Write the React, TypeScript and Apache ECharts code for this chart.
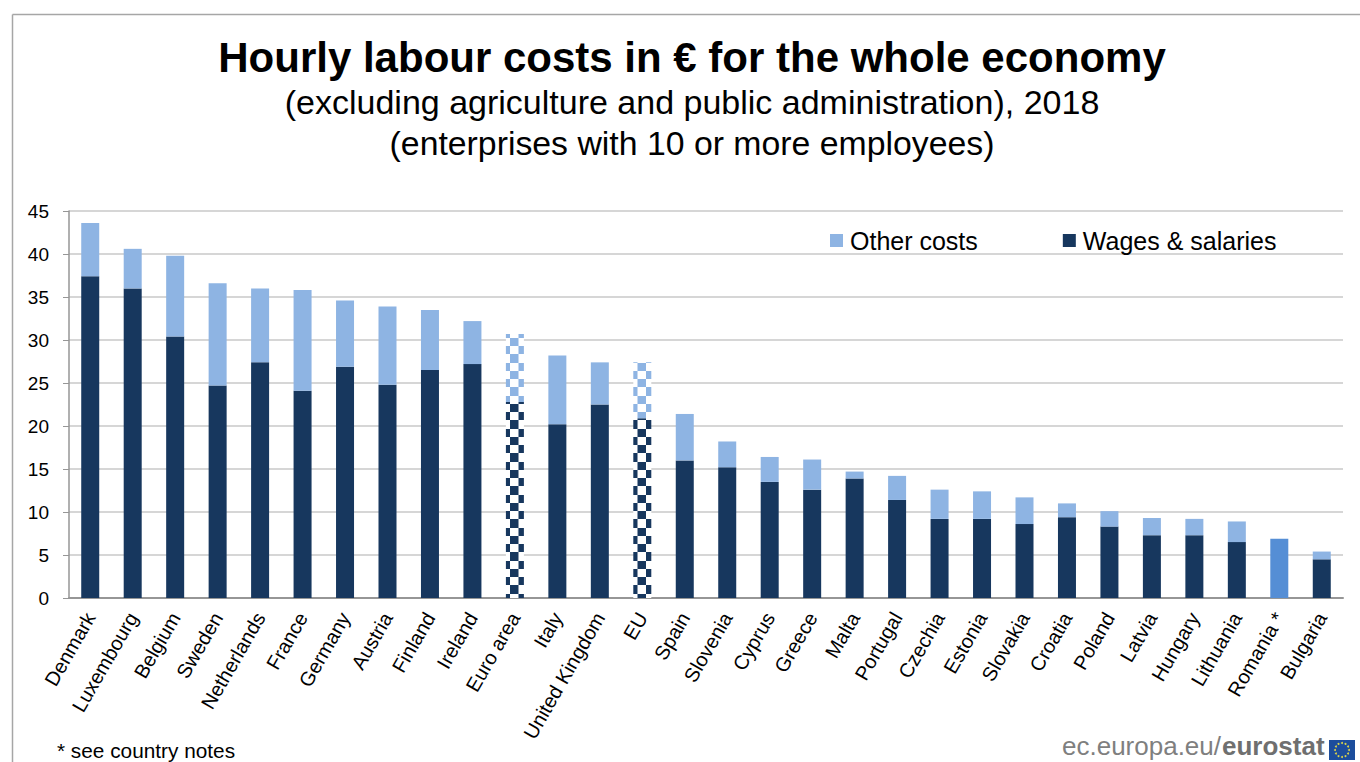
import React, { useEffect, useRef } from "react";
import * as echarts from "echarts";

const categories = ["Denmark","Luxembourg","Belgium","Sweden","Netherlands","France","Germany","Austria","Finland","Ireland","Euro area","Italy","United Kingdom","EU","Spain","Slovenia","Cyprus","Greece","Malta","Portugal","Czechia","Estonia","Slovakia","Croatia","Poland","Latvia","Hungary","Lithuania","Romania *","Bulgaria"];
const wages = [37.4,36.0,30.4,24.7,27.4,24.1,26.9,24.8,26.5,27.2,22.8,20.2,22.5,20.9,16.0,15.2,13.5,12.6,13.9,11.4,9.2,9.2,8.6,9.4,8.3,7.3,7.3,6.5,6.9,4.5];
const others = [6.2,4.6,9.4,11.9,8.6,11.7,7.7,9.1,7.0,5.0,7.9,8.0,4.9,6.5,5.4,3.0,2.9,3.5,0.8,2.8,3.4,3.2,3.1,1.6,1.8,2.0,1.9,2.4,0,0.9];
const yTicks = { min: 0, max: 45, interval: 5 };
// Aggregates are checkered; each entry gives the pattern origin for its own bar.
const aggregateOrigins: Record<string, { x: number; y: number }> = {
  "Euro area": { x: 505.9, y: 334 },
  EU: { x: 633.3, y: 361 },
};
const noBreakdown = ["Romania *"];

const NAVY = "#17375e";
const SKY = "#8eb4e3";
const MID = "#558ed5";
const GRID = "#c8c8c8";
const AXIS = "#969696";
const SANS = "'Liberation Sans', Arial, sans-serif";

// A check tile four rows high: rows of 8, 8, 8 and 9 px average out to 8.25 px.
function checkerTile(color: string, origin: { x: number; y: number }) {
  const tile = document.createElement("canvas");
  tile.width = 17;
  tile.height = 33;
  const ctx = tile.getContext("2d")!;
  ctx.fillStyle = "#ffffff";
  ctx.fillRect(0, 0, 17, 33);
  ctx.fillStyle = color;
  ctx.fillRect(8.5, 0, 8.5, 8);
  ctx.fillRect(0, 8, 8.5, 8);
  ctx.fillRect(8.5, 16, 8.5, 8);
  ctx.fillRect(0, 24, 8.5, 9);
  return {
    image: tile,
    repeat: "repeat",
    imageWidth: 17,
    imageHeight: 33,
    x: origin.x,
    y: origin.y,
  };
}

function barItem(name: string, value: number, color: string) {
  const origin = aggregateOrigins[name];
  if (origin) return { value, itemStyle: { color: checkerTile(color, origin) } };
  if (noBreakdown.includes(name)) return { value, itemStyle: { color: MID } };
  return { value, itemStyle: { color } };
}

// The EU emblem: twelve stars on a blue field, with dots standing in for stars.
const starRing = Array.from({ length: 12 }, (_, i) => ({
  type: "circle",
  shape: {
    cx: 1342 + 7 * Math.cos((i * Math.PI) / 6),
    cy: 750 + 7 * Math.sin((i * Math.PI) / 6),
    r: 1,
  },
  style: { fill: "#d9d24a" },
}));

const chrome = [
  { type: "line", shape: { x1: 12.5, y1: 14.5, x2: 12.5, y2: 762 }, style: { stroke: "#a6a6a6", lineWidth: 1.5 } },
  { type: "line", shape: { x1: 12.5, y1: 14.5, x2: 1360, y2: 14.5 }, style: { stroke: "#a6a6a6", lineWidth: 1.5 } },
  { type: "text", x: 57, y: 740, style: { text: "* see country notes", font: `20.8px ${SANS}`, fill: "#000" } },
  { type: "text", x: 1062, y: 733, style: { text: "ec.europa.eu/", font: `26px ${SANS}`, fill: "#7f7f7f" } },
  { type: "text", x: 1222, y: 733, style: { text: "eurostat", font: `bold 26px ${SANS}`, fill: "#6f6f6f" } },
  { type: "rect", shape: { x: 1329, y: 740, width: 26, height: 20 }, style: { fill: "#1c4d9c" } },
  ...starRing,
];

export default function App() {
  const ref = useRef<HTMLDivElement>(null);
  useEffect(() => {
    document.body.style.margin = "0";
    document.documentElement.style.overflow = "hidden";
    const chart = echarts.init(ref.current!, undefined, { renderer: "svg" });
    chart.setOption({
      animation: false,
      backgroundColor: "#ffffff",
      textStyle: { fontFamily: SANS },
      title: [
        { text: "Hourly labour costs in € for the whole economy", left: 687, top: 31, textAlign: "center", textStyle: { fontFamily: SANS, fontSize: 42, fontWeight: "bold", color: "#000" } },
        { text: "(excluding agriculture and public administration), 2018", left: 687, top: 80, textAlign: "center", textStyle: { fontFamily: SANS, fontSize: 34, fontWeight: "normal", color: "#000" } },
        { text: "(enterprises with 10 or more employees)", left: 687, top: 121, textAlign: "center", textStyle: { fontFamily: SANS, fontSize: 33.8, fontWeight: "normal", color: "#000" } },
      ],
      legend: {
        left: 825,
        top: 223,
        itemGap: 85,
        itemWidth: 13,
        itemHeight: 13,
        icon: "rect",
        selectedMode: false,
        data: ["Other costs", "Wages & salaries"],
        textStyle: { fontFamily: SANS, fontSize: 25, color: "#000", padding: [0, 0, 0, 2] },
      },
      grid: { left: 69, right: 17, top: 211, bottom: 164 },
      xAxis: {
        type: "category",
        data: categories,
        axisLine: { lineStyle: { color: AXIS, width: 2 } },
        axisTick: { alignWithLabel: false, length: 7, lineStyle: { color: AXIS, width: 2 } },
        axisLabel: { rotate: 60, interval: 0, fontFamily: SANS, fontSize: 20, color: "#000", margin: 16 },
      },
      yAxis: {
        type: "value",
        ...yTicks,
        axisLine: { show: true, lineStyle: { color: AXIS, width: 1.5 } },
        axisTick: { show: true, length: 6, lineStyle: { color: AXIS } },
        axisLabel: { fontFamily: SANS, fontSize: 19, color: "#000", margin: 20 },
        splitLine: { lineStyle: { color: GRID, width: 1.5 } },
      },
      series: [
        {
          name: "Wages & salaries",
          type: "bar",
          stack: "cost",
          barWidth: 18,
          itemStyle: { color: NAVY },
          data: categories.map((c, i) => barItem(c, wages[i], NAVY)),
        },
        {
          name: "Other costs",
          type: "bar",
          stack: "cost",
          barWidth: 18,
          itemStyle: { color: SKY },
          data: categories.map((c, i) => barItem(c, others[i], SKY)),
        },
      ],
      graphic: { elements: chrome },
    });
    return () => chart.dispose();
  }, []);
  return <div ref={ref} style={{ position: "absolute", left: 0, top: 0, width: 1360, height: 762 }} />;
}
